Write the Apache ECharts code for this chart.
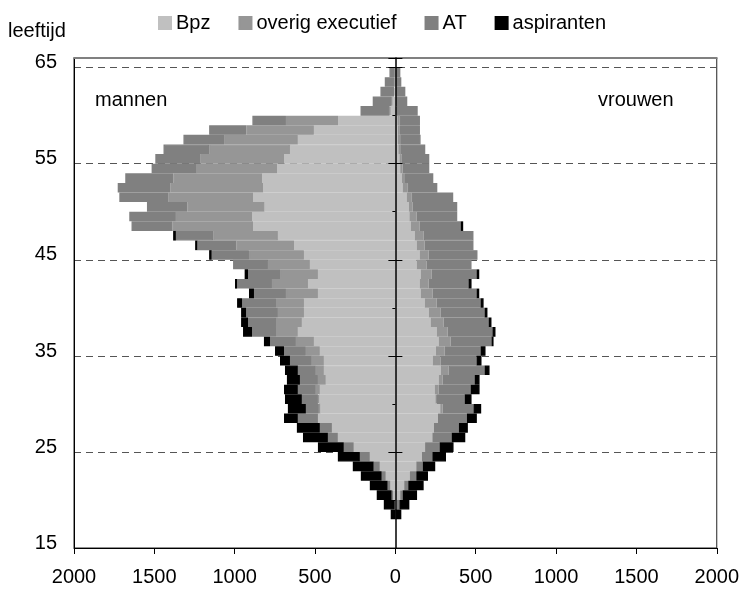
<!DOCTYPE html>
<html>
<head>
<meta charset="utf-8">
<script src="https://cdn.jsdelivr.net/npm/echarts@6/dist/echarts.min.js"></script>
<style>
  html, body { margin: 0; padding: 0; background: #fff; }
  #chart { width: 742px; height: 591px; }
</style>
</head>
<body>
<div id="chart"></div>
<script>
  // leeftijd 15 t/m 65 (one category per year)
  const ages = [15,16,17,18,19,20,21,22,23,24,25,26,27,28,29,30,31,32,33,34,35,36,37,38,39,40,
    41,42,43,44,45,46,47,48,49,50,51,52,53,54,55,56,57,58,59,60,61,62,63,64,65]
  const seriesNames = ['Bpz', 'overig executief', 'AT', 'aspiranten']
  const xTicks = [-2000, -1500, -1000, -500, 0, 500, 1000, 1500, 2000]

  // mannen
  const menBpz = [0,0,0,0,4,14,31,60,97,159,259,358,395,482,466,476,470,433,445,445,470,507,607,582,569,569,
    482,544,482,532,569,631,731,886,890,814,886,822,828,735,693,656,607,507,356,31,20,8,5,4,0]
  const menOverig = [0,0,0,0,0,0,0,0,0,0,0,0,0,0,10,6,25,49,50,75,87,112,136,161,162,174,
    199,224,236,261,342,358,403,501,476,480,528,579,553,501,522,503,459,420,325,5,5,0,0,0,0]
  const menAT = [0,0,0,0,0,9,17,25,38,62,62,62,75,125,81,100,112,112,112,136,136,161,149,174,198,211,
    199,217,199,217,232,243,232,255,290,252,304,327,300,281,279,284,253,232,209,181,116,85,61,33,0]
  const menAsp = [0,0,0,29,68,93,111,130,130,137,161,155,143,86,112,105,86,81,80,62,56,38,56,43,31,31,
    31,13,21,0,16,14,17,0,0,0,0,0,0,0,0,0,0,0,0,0,0,0,0,0,0]

  // vrouwen
  const womenBpz = [0,0,0,0,10,30,55,90,130,165,185,230,240,265,279,253,244,269,282,232,251,269,257,219,207,182,
    157,151,157,132,151,132,120,95,87,83,70,45,40,30,25,18,16,14,12,5,4,3,2,0,0]
  const womenOverig = [0,0,0,0,0,0,0,0,0,0,0,0,0,0,15,4,25,25,49,50,55,75,68,81,75,75,
    75,56,69,63,56,50,56,56,45,25,30,30,20,15,15,17,14,14,13,5,0,0,0,0,0]
  const womenAT = [0,0,0,0,15,15,25,40,40,65,90,120,155,180,192,174,199,199,224,223,224,254,279,280,273,273,
    273,248,279,279,304,304,310,255,253,277,260,186,176,166,171,151,127,125,128,129,70,59,35,31,0]
  const womenAsp = [0,0,0,37,62,90,96,73,78,85,87,85,56,62,48,43,56,31,31,31,31,13,19,18,18,19,
    17,19,17,0,0,0,0,16,0,0,0,0,0,0,0,0,0,0,0,0,0,0,0,0,0]

  const colors = ['#c0c0c0', '#969696', '#808080', '#000000']
  const font = 'Liberation Sans, Arial, sans-serif'

  function makeBar (name, data, stack, color, sign) {
    return {
      name: name,
      type: 'bar',
      stack: stack,
      yAxisIndex: 0,
      barGap: '-100%',
      barCategoryGap: '0%',
      // border in the same colour closes the seams between the rows
      itemStyle: { color: color, borderColor: color, borderWidth: 1.4 },
      emphasis: { disabled: true },
      data: data.map(v => v === 0 ? '-' : v * sign)
    }
  }

  let series = []
  const men = [menBpz, menOverig, menAT, menAsp]
  const women = [womenBpz, womenOverig, womenAT, womenAsp]
  for (let i = 0; i < 4; i++) {
    series.push(makeBar(seriesNames[i], men[i], 'm', colors[i], -1))
    series.push(makeBar(seriesNames[i], women[i], 'v', colors[i], 1))
  }

  // hidden helper axes on the zero line, only for the little ticks
  function zeroAxis (inside, len, every) {
    return {
      type: 'category',
      data: ages,
      position: 'left',
      z: 5,
      axisLine: { show: false, onZero: true, onZeroAxisIndex: 0 },
      axisTick: { show: true, inside: inside, length: len, interval: i => i % every === 0,
        lineStyle: { color: '#000', width: 1 } },
      axisLabel: { show: false },
      splitLine: { show: false }
    }
  }

  let option = {
    animation: false,
    textStyle: { fontFamily: font },
    color: colors,
    grid: {
      left: 74,
      right: 24,
      top: 58,
      bottom: 43,
      show: true,
      borderColor: '#222',
      borderWidth: 1
    },
    legend: {
      data: seriesNames,
      left: 153,
      top: 8,
      icon: 'rect',
      itemWidth: 12,
      itemHeight: 12,
      itemGap: 28,
      textStyle: { fontSize: 20, color: '#000', fontFamily: font }
    },
    graphic: [
      { type: 'text', left: 8, top: 21, style: { text: 'leeftijd', font: '20px ' + font, fill: '#000' } },
      { type: 'text', left: 95, top: 90, style: { text: 'mannen', font: '20px ' + font, fill: '#000' } },
      { type: 'text', left: 598, top: 90, style: { text: 'vrouwen', font: '20px ' + font, fill: '#000' } }
    ],
    xAxis: [{
      type: 'value',
      min: xTicks[0],
      max: xTicks[xTicks.length - 1],
      interval: 500,
      position: 'bottom',
      axisLine: { show: true, onZero: false, lineStyle: { color: '#000', width: 1 } },
      axisTick: { show: true, length: 6, lineStyle: { color: '#000' } },
      axisLabel: { fontSize: 20, color: '#000', margin: 19, formatter: v => Math.abs(v) },
      splitLine: { show: false }
    }, {
      type: 'value',
      min: xTicks[0],
      max: xTicks[xTicks.length - 1],
      position: 'top',
      axisLine: { show: true, onZero: false, lineStyle: { color: '#808080', width: 2 } },
      axisTick: { show: false },
      axisLabel: { show: false },
      splitLine: { show: false }
    }],
    yAxis: [{
      type: 'category',
      data: ages,
      position: 'left',
      axisLine: { show: true, onZero: false, lineStyle: { color: '#000', width: 1 } },
      axisTick: { show: false },
      axisLabel: {
        fontSize: 20,
        color: '#000',
        margin: 17,
        interval: i => i % 10 === 0
      },
      splitLine: {
        show: true,
        interval: i => i % 10 === 0 && i > 0,
        lineStyle: { color: '#555', width: 1, type: [7, 5] }
      }
    }, {
      type: 'category',
      data: ages,
      position: 'left',
      z: 5,
      axisLine: { show: true, onZero: true, onZeroAxisIndex: 0, lineStyle: { color: '#000', width: 1.5 } },
      axisTick: { show: true, length: 3, interval: i => i % 5 === 0, lineStyle: { color: '#000' } },
      axisLabel: { show: false },
      splitLine: { show: false }
    },
    zeroAxis(false, 7, 10),
    zeroAxis(true, 7, 10)],
    series: series
  }

  let myChart = echarts.init(document.getElementById('chart'), null, { renderer: 'canvas' })
  myChart.setOption(option)
</script>
</body>
</html>
